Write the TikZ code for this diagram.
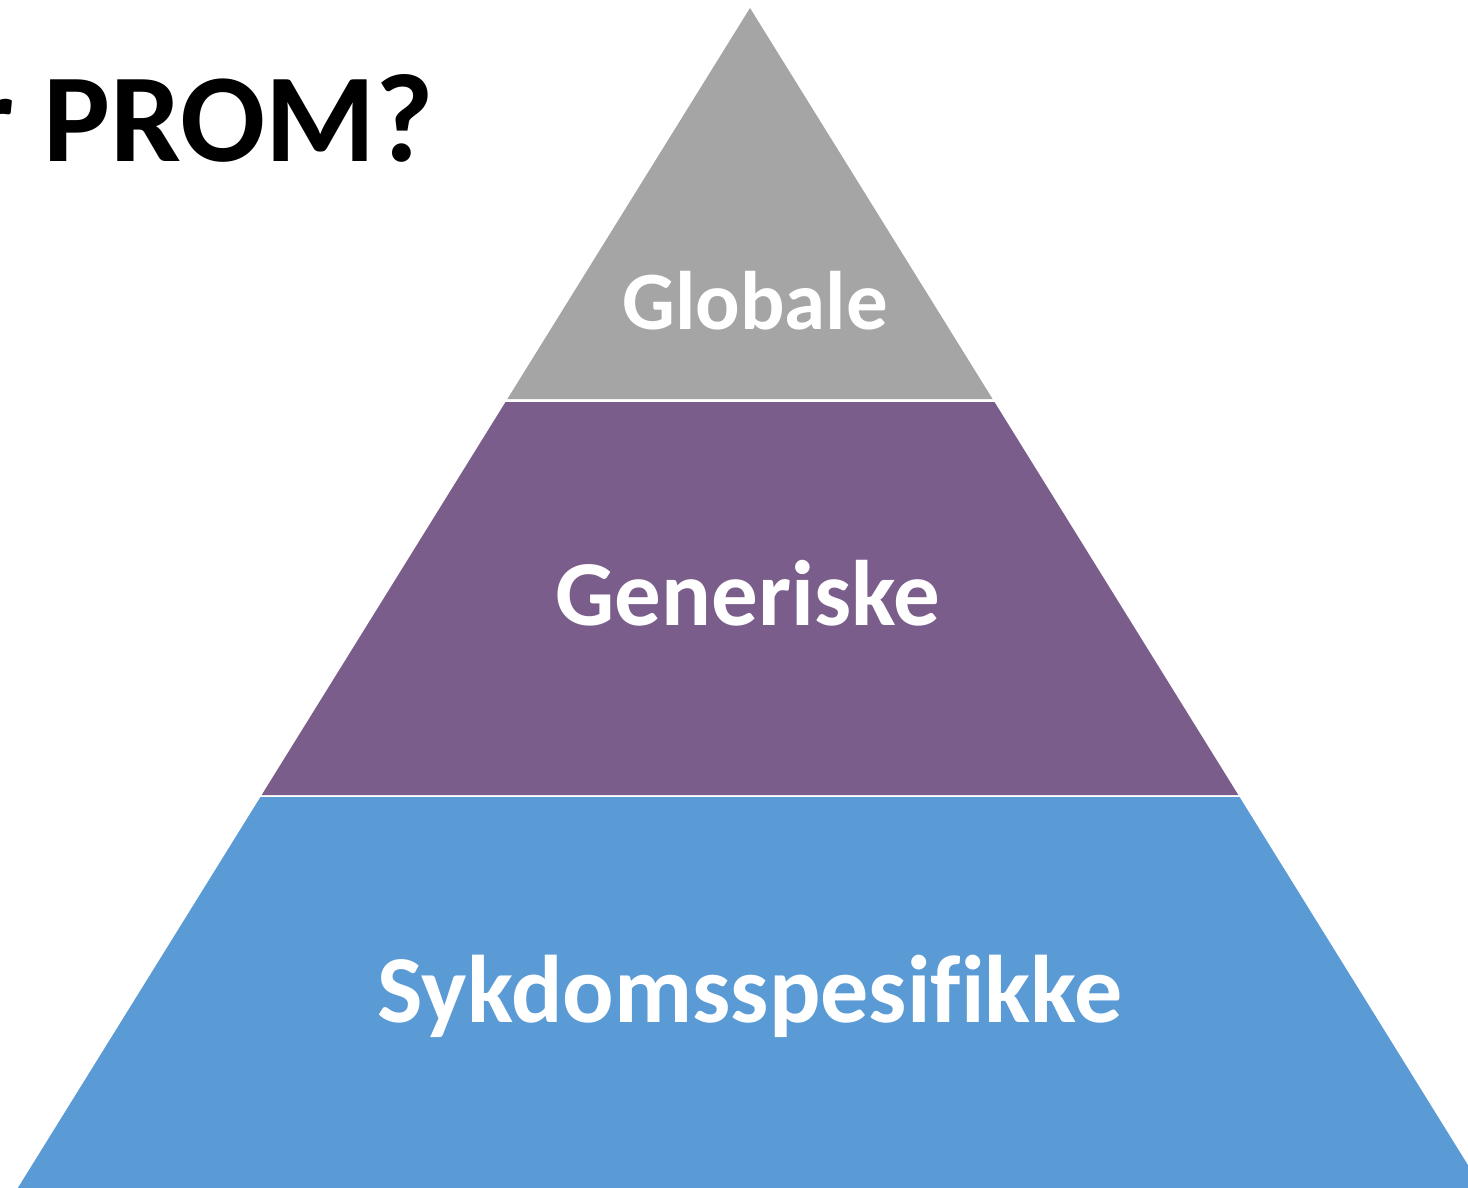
\documentclass[tikz,border=0pt]{standalone}
\usepackage{fontspec}
\setmainfont[Ligatures={NoCommon}]{Carlito}
\definecolor{layergray}{HTML}{A5A5A5}
\definecolor{layerpurple}{HTML}{7A5D8B}
\definecolor{layerblue}{HTML}{5B9BD5}
\begin{document}
\begin{tikzpicture}[x=1pt,y=-1pt,
  layertext/.style={text=white,font=\bfseries,inner sep=0pt,anchor=base}]
\useasboundingbox (0,0) rectangle (1468,1188);
\clip (0,0) rectangle (1468,1188);
\pgfmathsetmacro{\k}{0.6205}
% layers
\fill[layergray] (750,8) -- ({750-\k*391},399) -- ({750+\k*391},399) -- cycle;
\fill[layerpurple] ({750-\k*394},402) -- ({750+\k*394},402) -- ({750+\k*787},795) -- ({750-\k*787},795) -- cycle;
\fill[layerblue] ({750-\k*789},797) -- ({750+\k*789},797) -- ({750+\k*1220},1228) -- ({750-\k*1220},1228) -- cycle;
% texts
\node[layertext,font=\bfseries\fontsize{83}{87}\selectfont] (globale) at (755,329) {Globale};
\node[layertext,font=\bfseries\fontsize{93}{97}\selectfont] (generiske) at (748,625) {Generiske};
\node[layertext,font=\bfseries\fontsize{96}{100}\selectfont] (sykdom) at (750,1022) {Sykdomsspesifikke};
\node[inner sep=0pt,anchor=base east,font=\bfseries\fontsize{126}{130}\selectfont] (title) at (434,161) {Hva er PROM?};
\end{tikzpicture}
\end{document}
